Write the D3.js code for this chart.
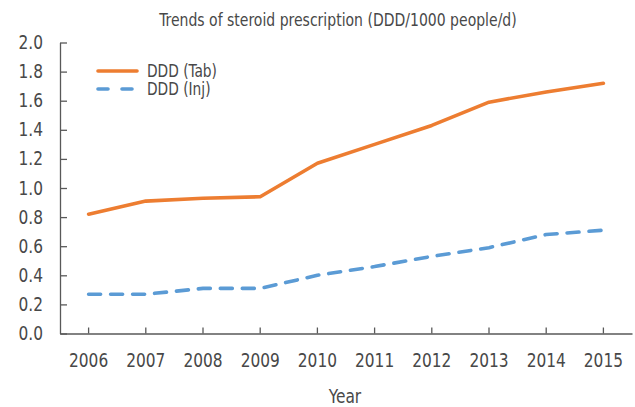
<!DOCTYPE html>
<html>
<head>
<meta charset="utf-8">
<script src="https://cdn.jsdelivr.net/npm/d3@7"></script>
<style>
  body { margin: 0; background: #fff; }
  text { font-family: "DejaVu Sans Condensed", "Liberation Sans Narrow", "Roboto", sans-serif; fill: #484848; }
</style>
</head>
<body>
<div class="chart-div"></div>
<script>
//--------------------------- Data

var years = ["2006", "2007", "2008", "2009", "2010", "2011", "2012", "2013", "2014", "2015"];
var dddTab = [0.82, 0.91, 0.93, 0.94, 1.17, 1.30, 1.43, 1.59, 1.66, 1.72];
var dddInj = [0.27, 0.27, 0.31, 0.31, 0.40, 0.46, 0.53, 0.59, 0.68, 0.71];
var seriesNames = ["DDD (Tab)", "DDD (Inj)"];
var yTicks = [0, 0.2, 0.4, 0.6, 0.8, 1.0, 1.2, 1.4, 1.6, 1.8, 2.0];

//--------------------------- SVG definition

var width = 635;
var height = 407;

var svg = d3.select("div.chart-div")
    .append("svg")
    .attr("width", width)
    .attr("height", height);

var x = d3.scaleBand().domain(years).range([60, 632]);
var y = d3.scaleLinear().domain([0, 2]).range([333.5, 42.5]);

var colors = ["#ED7D31", "#5B9BD5"];
var dashes = [null, "12,10"];

// squeeze text a little so it looks like the narrow font of the original
function condense(sel, f) {
    sel.each(function () {
        var w = this.getComputedTextLength();
        d3.select(this).attr("textLength", w * f).attr("lengthAdjust", "spacingAndGlyphs");
    });
}

//--------------------------- Axes

var yAxis = svg.append("g")
    .attr("transform", "translate(60,0)")
    .call(d3.axisLeft(y).tickValues(yTicks).tickFormat(d3.format(".1f"))
        .tickSize(-7).tickSizeOuter(0).tickPadding(17));

var xAxis = svg.append("g")
    .attr("transform", "translate(0,333.5)")
    .call(d3.axisBottom(x).tickSize(-6).tickSizeOuter(0).tickPadding(20));

[xAxis, yAxis].forEach(function (a) {
    a.selectAll("path, line").attr("stroke", "#595959").attr("stroke-width", 1.3);
    a.selectAll("text").attr("font-size", 19).style("fill", "#484848")
        .attr("font-family", null);
    condense(a.selectAll("text"), 0.9);
});

//--------------------------- Lines

var line = d3.line()
    .x(function (d, i) { return x(years[i]) + x.bandwidth() / 2; })
    .y(function (d) { return y(d); });

[dddTab, dddInj].forEach(function (s, k) {
    svg.append("path")
        .datum(s)
        .attr("d", line)
        .attr("fill", "none")
        .attr("stroke", colors[k])
        .attr("stroke-width", 3.6)
        .attr("stroke-linecap", "round")
        .attr("stroke-linejoin", "round")
        .attr("stroke-dasharray", dashes[k]);
});

//--------------------------- Legend

for (k = 0; k < seriesNames.length; k++) {
    svg.append("line")
        .attr("x1", 98).attr("x2", 137)
        .attr("y1", 71 + k * 18).attr("y2", 71 + k * 18)
        .attr("stroke", colors[k])
        .attr("stroke-width", 3.6)
        .attr("stroke-linecap", "round")
        .attr("stroke-dasharray", k == 1 ? "10,14" : null);

    svg.append("text")
        .attr("x", 147)
        .attr("y", 71 + k * 18)
        .attr("dy", "0.35em")
        .attr("font-size", 17)
        .text(seriesNames[k])
        .call(condense, 0.9);
}

//--------------------------- Titles

svg.append("text")
    .attr("x", 338)
    .attr("y", 20)
    .attr("dy", "0.35em")
    .attr("text-anchor", "middle")
    .attr("font-size", 17.5)
    .text("Trends of steroid prescription (DDD/1000 people/d)")
    .call(condense, 0.89);

svg.append("text")
    .attr("x", 345)
    .attr("y", 396)
    .attr("dy", "0.35em")
    .attr("text-anchor", "middle")
    .attr("font-size", 19)
    .text("Year")
    .call(condense, 0.9);
</script>
</body>
</html>
